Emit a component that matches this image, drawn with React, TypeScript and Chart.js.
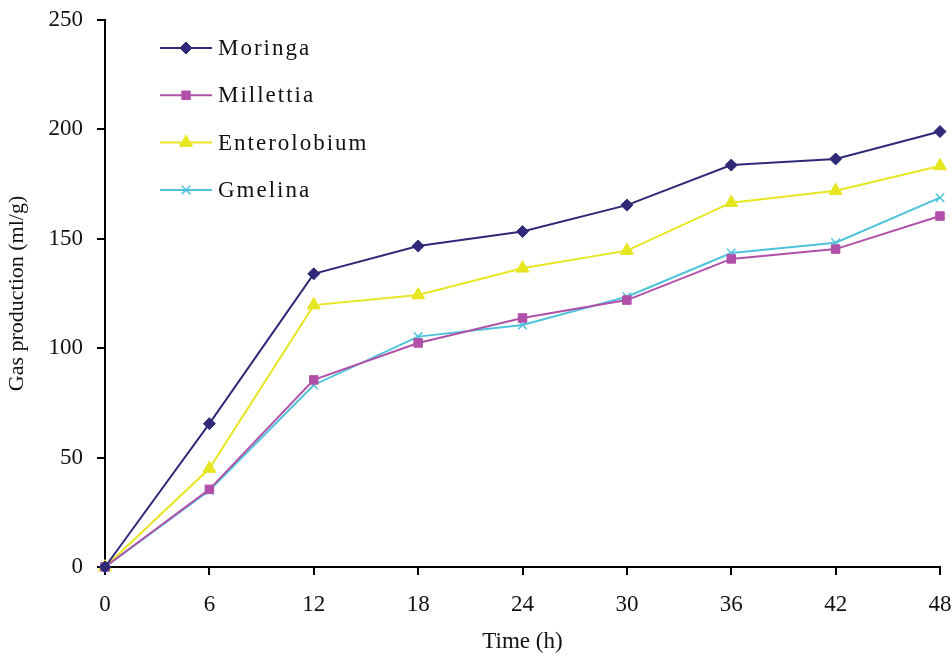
import React, { useEffect, useRef } from 'react';
import { Chart, registerables } from 'chart.js';
import { drawPoint } from 'chart.js/helpers';

Chart.register(...registerables);

const hours = [0, 6, 12, 18, 24, 30, 36, 42, 48];
const moringa = [0, 65.5, 134, 146.7, 153.3, 165.4, 183.7, 186.5, 199];
const millettia = [0, 35.5, 85.5, 102.4, 113.8, 122, 140.8, 145.3, 160.4];
const enterolobium = [0, 45, 119.7, 124.3, 136.5, 144.6, 166.5, 172, 183.3];
const gmelina = [0, 35, 83.2, 105.3, 110.6, 123.5, 143.5, 148.2, 168.8];

const seriesNames = ['Moringa', 'Millettia', 'Enterolobium', 'Gmelina'];
const seriesColors = ['#2e2a78', '#b150a8', '#e6e621', '#4ec3dc'];
const seriesStyles = ['rectRot', 'rect', 'triangle', 'crossRot'];
const seriesRadius = [6, 6, 7.5, 6];
const seriesValues = [moringa, millettia, enterolobium, gmelina];

const FONT = "'Liberation Serif', 'Times New Roman', serif";

const insideLegend = {
  id: 'insideLegend',
  afterDraw(chart: any) {
    const ctx = chart.ctx;
    const area = chart.chartArea;
    const x0 = area.left + 55;
    const x1 = area.left + 107;
    const xm = (x0 + x1) / 2;
    const xt = area.left + 113;
    const y0 = area.top + 28;
    const dy = 47.3;
    chart.data.datasets.forEach((ds: any, i: number) => {
      const y = y0 + i * dy;
      ctx.save();
      ctx.strokeStyle = ds.borderColor;
      ctx.lineWidth = 2;
      ctx.beginPath();
      ctx.moveTo(x0, y);
      ctx.lineTo(x1, y);
      ctx.stroke();
      ctx.fillStyle = ds.backgroundColor;
      ctx.strokeStyle = ds.borderColor;
      ctx.lineWidth = ds.pointStyle === 'crossRot' ? 1.5 : 1;
      drawPoint(ctx, { pointStyle: ds.pointStyle, radius: ds.pointRadius, rotation: 0, borderWidth: 1 } as any, xm, y);
      ctx.fillStyle = '#111';
      ctx.font = `23px ${FONT}`;
      (ctx as any).letterSpacing = '2px';
      ctx.textBaseline = 'middle';
      ctx.textAlign = 'left';
      ctx.fillText(ds.label, xt, y + 1);
      (ctx as any).letterSpacing = '0px';
      ctx.restore();
    });
  },
};

export default function App() {
  const ref = useRef<HTMLCanvasElement>(null);
  useEffect(() => {
    if (!ref.current) return;
    const chart = new Chart(ref.current, {
      type: 'line',
      data: {
        datasets: seriesNames.map((name, i) => ({
          label: name,
          data: hours.map((h, j) => ({ x: h, y: seriesValues[i][j] })),
          borderColor: seriesColors[i],
          backgroundColor: seriesColors[i],
          pointStyle: seriesStyles[i] as any,
          pointRadius: seriesRadius[i],
          pointHoverRadius: seriesRadius[i],
          pointBorderWidth: seriesStyles[i] === 'crossRot' ? 1.5 : 1,
          borderWidth: 2,
          tension: 0,
          clip: false as any,
        })),
      },
      options: {
        animation: false,
        responsive: true,
        maintainAspectRatio: false,
        layout: { padding: { top: 20, right: 12, left: 0, bottom: 0 } },
        plugins: { legend: { display: false }, tooltip: { enabled: false } },
        scales: {
          x: {
            type: 'linear',
            min: 0,
            max: 48,
            ticks: { stepSize: 6, color: '#111', font: { family: FONT, size: 23 }, padding: 16, maxRotation: 0 },
            grid: { drawOnChartArea: false, drawTicks: true, tickLength: 8, color: '#000', lineWidth: 2 },
            border: { display: true, color: '#000', width: 2 },
            title: { display: true, text: 'Time (h)', color: '#111', font: { family: FONT, size: 23 } },
            afterFit: (s: any) => { s.height = 93; s.paddingLeft = 0; s.paddingRight = 0; },
          },
          y: {
            type: 'linear',
            min: 0,
            max: 250,
            ticks: { stepSize: 50, color: '#111', font: { family: FONT, size: 23 }, padding: 14 },
            grid: { drawOnChartArea: false, drawTicks: true, tickLength: 8, color: '#000', lineWidth: 2 },
            border: { display: true, color: '#000', width: 2 },
            title: { display: true, text: 'Gas production (ml/g)', color: '#111', font: { family: FONT, size: 22 } },
            afterFit: (s: any) => { s.width = 105; s.paddingTop = 0; s.paddingBottom = 0; },
          },
        },
      },
      plugins: [insideLegend],
    });
    return () => chart.destroy();
  }, []);
  return (
    <div style={{ position: 'absolute', left: 0, top: 0, width: 952, height: 660, background: '#fff' }}>
      <canvas ref={ref} />
    </div>
  );
}
